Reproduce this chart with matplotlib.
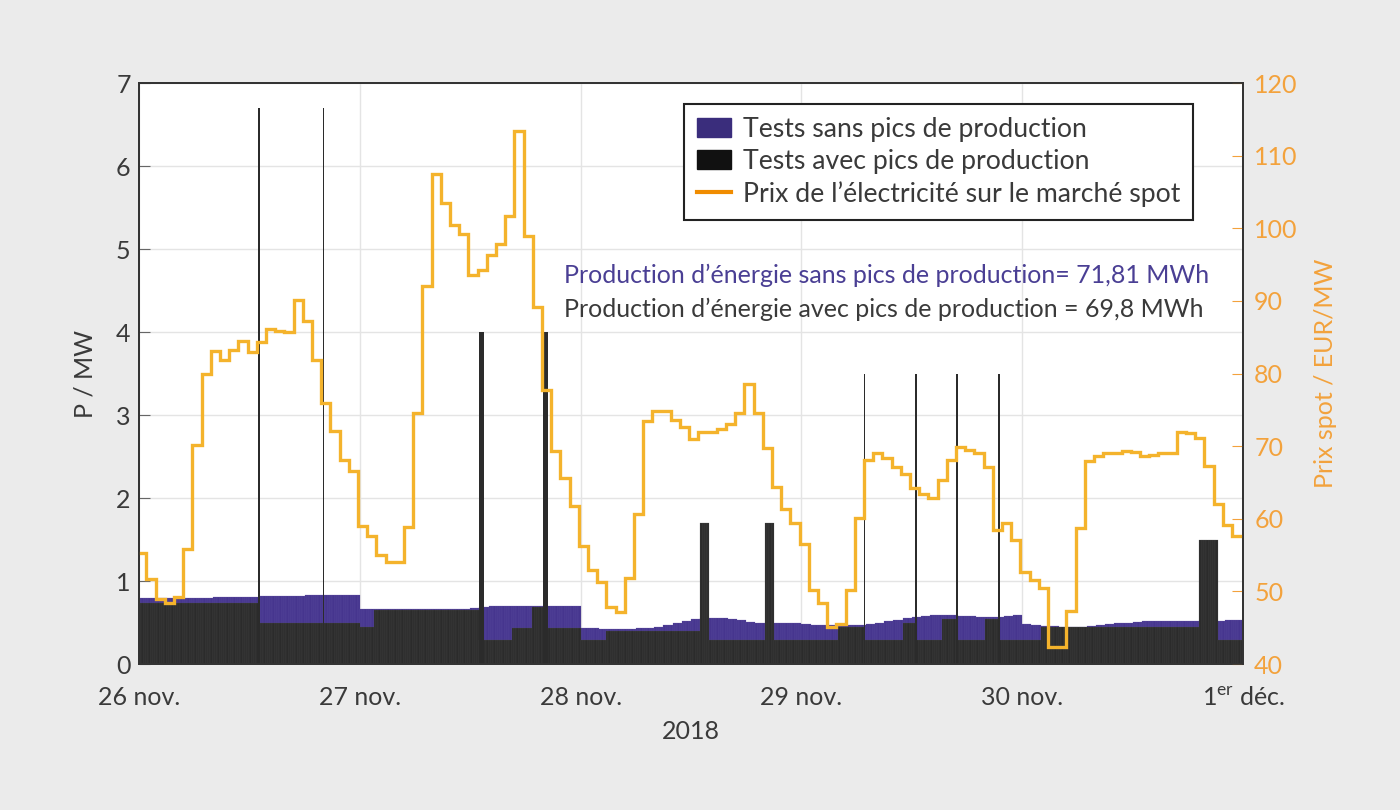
import numpy as np
import matplotlib
matplotlib.use("Agg")
import matplotlib.pyplot as plt
from matplotlib.patches import Patch
from matplotlib.lines import Line2D

plt.rcParams['font.family'] = ['Lato', 'DejaVu Sans']
plt.rcParams['mathtext.fontset'] = 'custom'
plt.rcParams['mathtext.rm'] = 'Lato'

# spot price, one value per hour (EUR/MW), 26 nov -> 30 nov
price = [
    55.3, 51.7, 49.0, 48.4, 49.2, 55.9, 70.1, 80.0, 83.1, 81.9, 83.2, 84.5,
    83.0, 84.4, 86.1, 85.9, 85.7, 90.1, 87.3, 81.9, 76.0, 72.1, 68.1, 66.6,
    59.0, 57.6, 55.0, 54.1, 54.1, 58.9, 74.6, 92.0, 107.5, 103.5, 100.4, 99.2,
    93.6, 94.2, 96.3, 97.8, 101.7, 113.4, 98.9, 89.1, 77.7, 69.3, 65.6, 61.8,
    56.2, 53.0, 51.3, 47.9, 47.1, 51.8, 60.7, 73.5, 74.9, 74.9, 73.6, 72.7,
    71.0, 71.9, 72.0, 72.4, 73.0, 74.6, 78.6, 74.6, 69.7, 64.4, 61.3, 59.4,
    56.5, 50.2, 48.4, 45.1, 45.5, 50.2, 60.1, 68.1, 69.1, 68.4, 67.1, 66.1,
    64.3, 63.4, 62.8, 65.3, 68.1, 69.9, 69.5, 69.0, 67.1, 58.5, 59.4, 57.1,
    52.7, 51.6, 50.5, 42.4, 42.4, 47.3, 58.7, 68.0, 68.7, 69.0, 69.1, 69.4,
    69.2, 68.7, 68.8, 69.1, 69.1, 72.0, 71.8, 71.1, 67.3, 62.0, 59.1, 57.6,
]
price_offset_h = -0.2

# production without peaks, one value per hour (MW)
sans_pics = [
    0.79, 0.79, 0.79, 0.80, 0.80, 0.80, 0.80, 0.80, 0.81, 0.81, 0.81, 0.81,
    0.81, 0.82, 0.82, 0.82, 0.82, 0.82, 0.83, 0.83, 0.83, 0.83, 0.835, 0.835,
    0.66, 0.66, 0.66, 0.66, 0.66, 0.66, 0.66, 0.66, 0.66, 0.66, 0.66, 0.66,
    0.67, 0.69, 0.70, 0.70, 0.70, 0.70, 0.70, 0.70, 0.70, 0.70, 0.70, 0.70,
    0.43, 0.43, 0.42, 0.42, 0.42, 0.42, 0.43, 0.44, 0.45, 0.47, 0.50, 0.52,
    0.54, 0.55, 0.55, 0.55, 0.54, 0.53, 0.51, 0.50, 0.49, 0.49, 0.49, 0.49,
    0.48, 0.47, 0.47, 0.47, 0.47, 0.47, 0.47, 0.48, 0.50, 0.52, 0.53, 0.55,
    0.57, 0.58, 0.59, 0.59, 0.59, 0.58, 0.58, 0.57, 0.57, 0.57, 0.58, 0.59,
    0.48, 0.47, 0.46, 0.46, 0.45, 0.45, 0.45, 0.46, 0.47, 0.48, 0.49, 0.50,
    0.51, 0.52, 0.52, 0.52, 0.52, 0.52, 0.52, 0.52, 0.52, 0.52, 0.53, 0.53,
]

# production with peaks: (start hour, end hour, MW)
avec_pics_seg = [
    (0, 13, 0.74), (13, 24, 0.49), (24, 25.5, 0.45), (25.5, 37, 0.65),
    (37, 40.5, 0.29), (40.5, 42.75, 0.44), (42.75, 44, 0.69), (44, 48, 0.44),
    (48, 50.75, 0.29), (50.75, 61, 0.40), (61, 62, 1.70), (62, 68, 0.29),
    (68, 69, 1.70), (69, 76, 0.29), (76, 78.75, 0.45), (78.75, 83, 0.29),
    (83, 84.5, 0.49), (84.5, 87.25, 0.29), (87.25, 89, 0.54), (89, 92, 0.29),
    (92, 93.5, 0.54), (93.5, 98, 0.29), (98, 115.25, 0.45),
    (115.25, 117.25, 1.50), (117.25, 120, 0.29),
]
# short peaks: (hour, MW, duration in hours)
pics = [
    (12.95, 6.7, 0.2), (19.95, 6.7, 0.2), (37.0, 4.0, 0.45), (43.95, 4.0, 0.45),
    (78.75, 3.5, 0.18), (84.35, 3.5, 0.18), (88.85, 3.5, 0.18), (93.35, 3.5, 0.18),
]

day_labels = ['26 nov.', '27 nov.', '28 nov.', '29 nov.', '30 nov.',
              '1$^{\\mathrm{er}}$ déc.']

purple = '#46358e'
dark = '#2b2b2b'
gold = '#f4b32c'
orange_txt = '#f3a23c'
grey_txt = '#3a3a3a'

# expand to quarter hours
q = 0.25
t_sans = np.arange(0, 120, q)
v_sans = np.repeat(sans_pics, 4)
t_avec, v_avec = [], []
for s, e, v in avec_pics_seg:
    tt = np.arange(s, e, q)
    t_avec.extend(tt)
    v_avec.extend([v] * len(tt))
t_avec = np.array(t_avec)

fig = plt.figure(figsize=(14, 8.1), dpi=100, facecolor='#ebebeb')
ax = fig.add_axes([0.0993, 0.1802, 0.7886, 0.7173])
ax.set_facecolor('white')

ax.bar(t_sans / 24, v_sans, width=q / 24, align='edge', color=purple,
       edgecolor='#6a5cab', linewidth=0.15)
ax.bar(t_avec / 24, v_avec, width=q / 24, align='edge', color=dark,
       edgecolor='#555555', linewidth=0.15)
for h, v, w in pics:
    ax.bar(h / 24, v, width=w / 24, align='edge', color=dark, linewidth=0)

ax.set_xlim(0, 5)
ax.set_ylim(0, 7)
ax.set_xticks(range(6))
ax.set_xticklabels(day_labels)
ax.set_yticks(range(8))
ax.grid(True, color='#e4e4e4', lw=1)
ax.set_axisbelow(True)
ax.tick_params(axis='y', direction='in', length=8, color='#666', labelsize=18,
               labelcolor=grey_txt, pad=6)
ax.tick_params(axis='x', direction='in', length=0, labelsize=18,
               labelcolor=grey_txt, pad=16)
ax.set_ylabel('P / MW', fontsize=18, color=grey_txt, labelpad=14)
ax.set_xlabel('2018', fontsize=18, color=grey_txt, labelpad=8)
for sp in ax.spines.values():
    sp.set_color('#333333')
    sp.set_linewidth(1.3)

ax2 = ax.twinx()
edges = np.append(np.arange(len(price)) + price_offset_h, 120.5) / 24
ax2.stairs(price, edges, baseline=None, color=gold, linewidth=2.4)
ax2.set_ylim(40, 120)
ax2.set_yticks(range(40, 121, 10))
ax2.tick_params(axis='y', direction='in', length=8, color=orange_txt,
                labelsize=18, labelcolor=orange_txt, pad=8)
ax2.set_ylabel('Prix spot / EUR/MW', fontsize=18, color=orange_txt, labelpad=12)
for sp in ax2.spines.values():
    sp.set_color('#333333')
    sp.set_linewidth(1.3)

handles = [Patch(color='#3a2d7c'), Patch(color='#111111'),
           Line2D([], [], color='#f08c00', lw=3)]
labels = ['Tests sans pics de production', 'Tests avec pics de production',
          'Prix de l’électricité sur le marché spot']
leg = ax2.legend(handles, labels, loc='upper right', bbox_to_anchor=(0.955, 0.964),
                 borderaxespad=0, fontsize=19.2, frameon=True, fancybox=False,
                 framealpha=1, edgecolor='#222222', handlelength=1.3,
                 handleheight=0.75, labelspacing=0.27, borderpad=0.48,
                 handletextpad=0.45)
leg.get_frame().set_linewidth(1.5)
for txt in leg.get_texts():
    txt.set_color(grey_txt)

ax2.text(0.385, 0.669, 'Production d’énergie sans pics de production= 71,81 MWh',
         transform=ax2.transAxes, fontsize=18, color='#4a3f94', va='center')
ax2.text(0.385, 0.611, 'Production d’énergie avec pics de production = 69,8 MWh',
         transform=ax2.transAxes, fontsize=18, color=grey_txt, va='center')

fig.savefig('out.png', dpi=100, facecolor=fig.get_facecolor())
